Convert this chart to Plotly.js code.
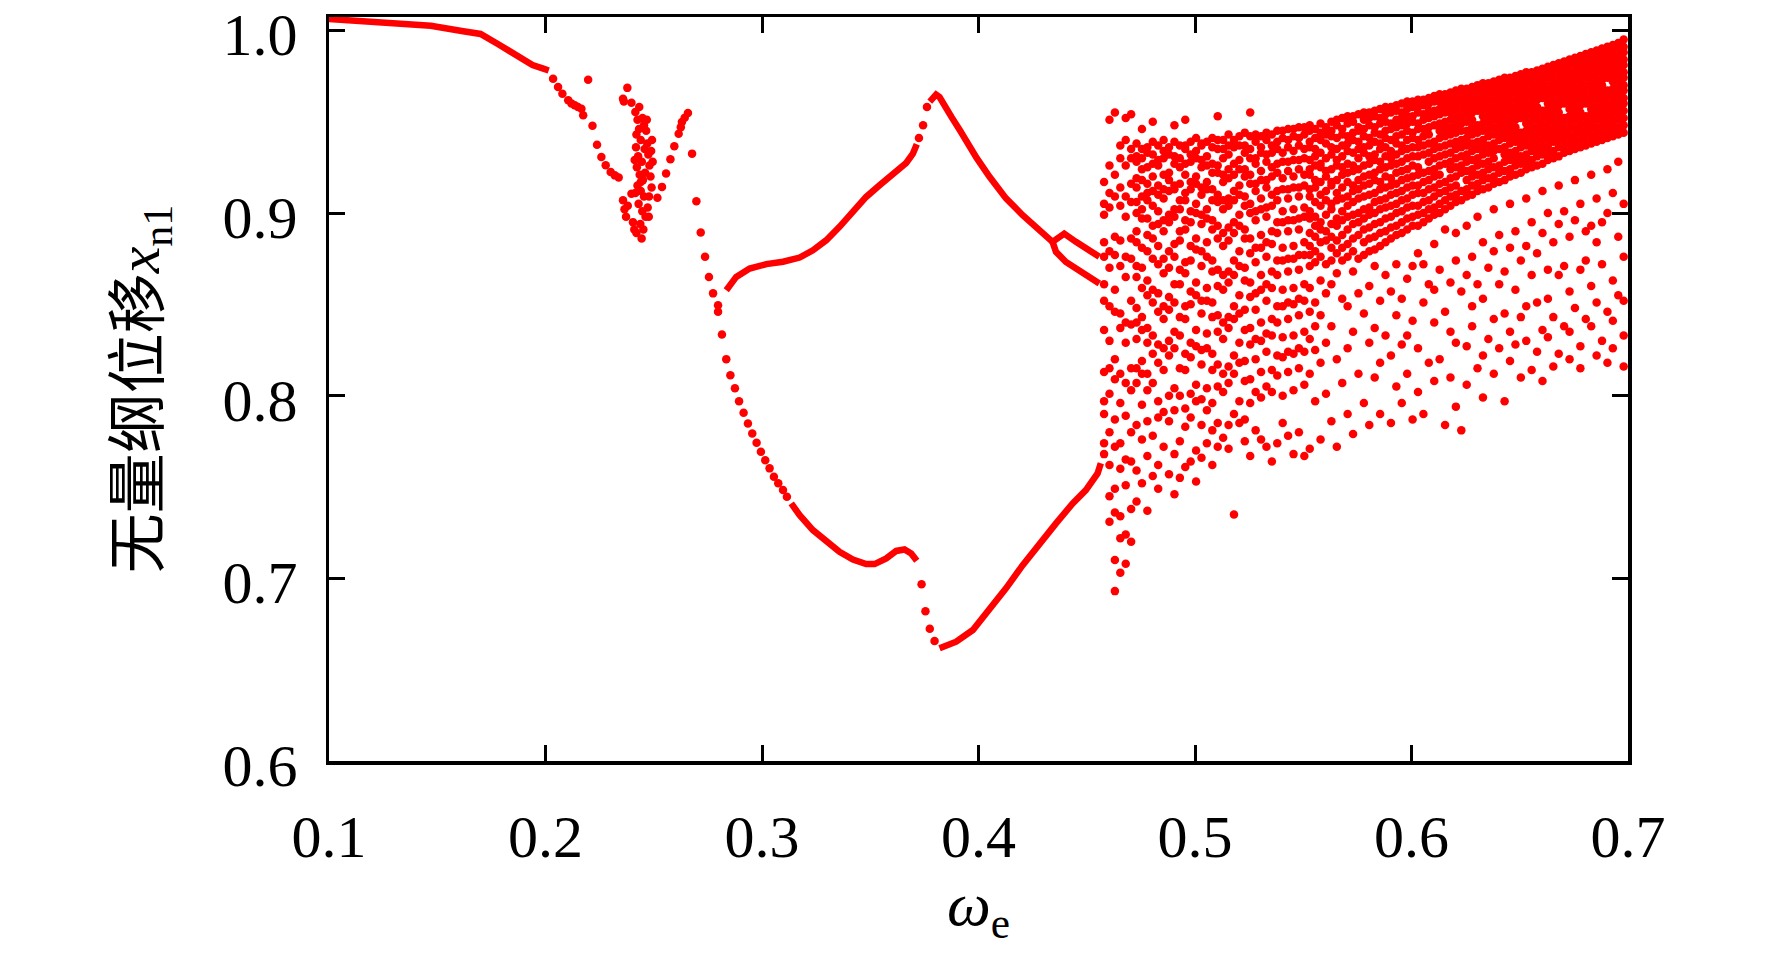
<!DOCTYPE html>
<html>
<head>
<meta charset="utf-8">
<script src="https://cdn.plot.ly/plotly-3.0.1.min.js"></script>
<style>
  html, body { margin: 0; padding: 0; background: #fff; }
  #chart { width: 1772px; height: 959px; }
</style>
</head>
<body>
<div id="chart"></div>
<script>
// 刻度
var xTicks = [0.1, 0.2, 0.3, 0.4, 0.5, 0.6, 0.7];
var yTicks = [0.6, 0.7, 0.8, 0.9, 1.0];

// 单周期主支 0.1~0.2
var topX = [0.1, 0.115, 0.131, 0.147, 0.162, 0.170, 0.178, 0.183, 0.188, 0.194, 0.199, 0.2015];
var topY = [1.0062, 1.0053, 1.004, 1.0025, 0.9995, 0.998, 0.9925, 0.989, 0.985, 0.981, 0.979, 0.978];

// 上支 (0.28 ~ 0.37)
var upperX = [0.2835, 0.2881, 0.2943, 0.302, 0.3097, 0.3174, 0.3235, 0.3297, 0.3358, 0.342, 0.3481, 0.3543, 0.3604, 0.3666, 0.3697, 0.3715];
var upperY = [0.8577, 0.865, 0.8696, 0.872, 0.8733, 0.8756, 0.8796, 0.8851, 0.8924, 0.9006, 0.9088, 0.9152, 0.9216, 0.9274, 0.9325, 0.9376];

// 峰值后下降支
var peakX = [0.3775, 0.379, 0.3804, 0.382, 0.3836, 0.3875, 0.3914, 0.3953, 0.3992, 0.4051, 0.4127, 0.4204, 0.4281, 0.4342];
var peakY = [0.961, 0.9638, 0.9648, 0.9635, 0.960, 0.9526, 0.9453, 0.9375, 0.930, 0.9198, 0.908, 0.8988, 0.891, 0.8842];

// 0.44 附近的小环
var loopAX = [0.4342, 0.4396, 0.445, 0.4512, 0.4558];
var loopAY = [0.8842, 0.8887, 0.8842, 0.8796, 0.876];
var loopBX = [0.4342, 0.4358, 0.4404, 0.4466, 0.4527, 0.4558];
var loopBY = [0.8842, 0.8787, 0.8732, 0.8687, 0.8641, 0.8614];

// 下支
var lowerX = [0.3135, 0.3174, 0.3235, 0.3297, 0.3358, 0.342, 0.3481, 0.352, 0.3574, 0.362, 0.3658, 0.3689, 0.3715];
var lowerY = [0.741, 0.7346, 0.7264, 0.72, 0.7145, 0.7103, 0.7078, 0.7078, 0.7109, 0.715, 0.7158, 0.7136, 0.7096];
var riseX = [0.382, 0.3897, 0.3974, 0.4051, 0.4127, 0.4204, 0.4281, 0.4358, 0.4435, 0.4496, 0.455, 0.4565];
var riseY = [0.6617, 0.6653, 0.6717, 0.6826, 0.6945, 0.7072, 0.7191, 0.7301, 0.741, 0.7483, 0.7574, 0.763];

// 离散点 (0.2 ~ 0.38)
var dotsX = [0.2035, 0.2058, 0.2078, 0.2105, 0.212, 0.2135, 0.215, 0.2166, 0.2174, 0.2197, 0.2217, 0.2238, 0.2258, 0.2278, 0.2301, 0.232, 0.2338,
  0.2378, 0.2358, 0.2362, 0.2397,
  0.2415, 0.2425, 0.2432, 0.242, 0.244, 0.2418, 0.2428, 0.2445, 0.2422, 0.2435, 0.245, 0.2425, 0.244, 0.2455, 0.243, 0.2447, 0.2462, 0.2438, 0.2452, 0.242,
  0.2465, 0.247, 0.2475, 0.248, 0.2485, 0.249, 0.2478, 0.2472, 0.2468, 0.2458, 0.246, 0.2492, 0.2495, 0.2488, 0.2455, 0.2448, 0.2433, 0.2412, 0.244, 0.2415, 0.2444,
  0.2358, 0.2365, 0.2372, 0.238, 0.2397, 0.2404, 0.241, 0.2477,
  0.2517, 0.2538, 0.2557, 0.2577, 0.2595, 0.2615, 0.2625, 0.263, 0.2643, 0.2658,
  0.2677, 0.2697, 0.2717, 0.2737, 0.2755, 0.2774, 0.2797, 0.2797, 0.2815, 0.2835, 0.2854, 0.2875, 0.2894, 0.2915, 0.2935, 0.2955, 0.2975, 0.2995, 0.3015, 0.3035, 0.3055, 0.3075, 0.3097, 0.3115,
  0.3737, 0.3755, 0.3775, 0.3797, 0.3725, 0.3744, 0.3762];
var dotsY = [0.9735, 0.969, 0.9653, 0.9617, 0.960, 0.959, 0.958, 0.9571, 0.9535, 0.973, 0.9478, 0.9374, 0.9307, 0.9261, 0.9225, 0.9206, 0.9194,
  0.9685, 0.9626, 0.961, 0.9603,
  0.9553, 0.951, 0.946, 0.943, 0.940, 0.936, 0.931, 0.928, 0.925, 0.921, 0.918, 0.915, 0.912, 0.909, 0.905, 0.901, 0.898, 0.894, 0.891, 0.889,
  0.945, 0.938, 0.932, 0.926, 0.920, 0.914, 0.909, 0.903, 0.951, 0.935, 0.922, 0.940, 0.928, 0.934, 0.948, 0.952, 0.958, 0.929, 0.917, 0.911, 0.886,
  0.907, 0.902, 0.898, 0.904, 0.9106, 0.895, 0.891, 0.898,
  0.9083, 0.9143, 0.9216, 0.9294, 0.9365, 0.9434, 0.947, 0.9498, 0.9522, 0.9548,
  0.9325, 0.9064, 0.8893, 0.876, 0.865, 0.856, 0.8495, 0.8459, 0.8335, 0.820, 0.8112, 0.804, 0.797, 0.7906, 0.7848, 0.7793, 0.7742, 0.7693, 0.7647, 0.7602, 0.7556, 0.752, 0.7483, 0.7446,
  0.6967, 0.682, 0.6724, 0.6657, 0.941, 0.948, 0.958];

// 混沌区: 每个 ω_e 列上的 x_n1 取值
var chaosX = [0.458, 0.4605, 0.463, 0.4655, 0.468, 0.4705, 0.473, 0.4755, 0.478, 0.4805,
  0.483, 0.4855, 0.488, 0.4905, 0.493, 0.4955, 0.498, 0.5005, 0.503, 0.5055,
  0.508, 0.5105, 0.513, 0.5155, 0.518, 0.5205, 0.523, 0.5255, 0.528, 0.5305,
  0.533, 0.5355, 0.538, 0.5405, 0.543, 0.5455, 0.548, 0.5505, 0.553, 0.5555,
  0.558, 0.5605, 0.563, 0.5655, 0.568, 0.5705, 0.573, 0.5755, 0.578, 0.5805,
  0.583, 0.5855, 0.588, 0.5905, 0.593, 0.5955, 0.598, 0.6005, 0.603, 0.6055,
  0.608, 0.6105, 0.613, 0.6155, 0.618, 0.6205, 0.623, 0.6255, 0.628, 0.6305,
  0.633, 0.6355, 0.638, 0.6405, 0.643, 0.6455, 0.648, 0.6505, 0.653, 0.6555,
  0.658, 0.6605, 0.663, 0.6655, 0.668, 0.6705, 0.673, 0.6755, 0.678, 0.6805,
  0.683, 0.6855, 0.688, 0.6905, 0.693, 0.6955, 0.698];
var chaosY = [
  [.917, .905, .899, .884, .876, .861, .852, .836, .813, .797, .79, .774, .768],
  [.951, .926, .911, .903, .879, .87, .849, .83, .815, .801, .78, .762, .745, .731],
  [.955, .921, .909, .887, .877, .858, .846, .82, .809, .787, .772, .749, .736, .71, .693],
  [.937, .93, .914, .904, .885, .871, .845, .837, .812, .796, .774, .76, .734, .722, .703],
  [.952, .94, .926, .909, .898, .876, .865, .84, .829, .807, .789, .765, .751, .724, .708],
  [.954, .935, .93, .916, .906, .886, .875, .852, .839, .815, .803, .78, .764, .738, .72],
  [.938, .931, .928, .919, .914, .906, .9, .89, .884, .871, .865, .848, .84, .831, .815, .807, .784, .759, .742],
  [.946, .935, .93, .924, .918, .909, .902, .897, .881, .87, .859, .843, .836, .819, .812, .795, .776, .752],
  [.936, .933, .925, .916, .911, .907, .897, .888, .879, .863, .855, .837, .829, .812, .803, .786, .767, .737],
  [.95, .939, .932, .927, .92, .912, .904, .893, .886, .875, .858, .851, .833, .823, .807, .778, .756],
  [.937, .929, .926, .915, .91, .901, .894, .882, .872, .856, .846, .828, .818, .797, .788, .762, .749],
  [.94, .934, .93, .921, .913, .908, .896, .89, .875, .867, .849, .842, .826, .814, .791, .772],
  [.936, .932, .922, .918, .912, .899, .895, .879, .87, .854, .847, .83, .822, .8, .786, .757],
  [.948, .939, .931, .927, .915, .913, .902, .898, .883, .876, .861, .851, .835, .826, .804, .792, .768, .746],
  [.937, .93, .925, .916, .907, .902, .89, .885, .869, .861, .843, .833, .815, .8, .775, .755],
  [.951, .937, .935, .927, .921, .911, .907, .896, .891, .873, .867, .849, .842, .823, .814, .793, .783, .761],
  [.939, .932, .928, .917, .913, .901, .895, .882, .874, .857, .85, .829, .821, .801, .788, .764],
  [.941, .934, .93, .92, .916, .905, .9, .886, .88, .862, .855, .836, .827, .806, .797, .77, .753],
  [.938, .937, .929, .925, .914, .91, .899, .894, .879, .871, .852, .845, .825, .817, .798, .784, .766],
  [.939, .931, .926, .917, .913, .902, .897, .884, .876, .859, .852, .834, .826, .804, .792, .774],
  [.941, .936, .927, .922, .913, .907, .896, .891, .874, .868, .851, .843, .823, .814, .796, .781, .762],
  [.953, .94, .935, .926, .922, .91, .906, .893, .886, .869, .86, .844, .835, .817, .805, .785, .772],
  [.94, .935, .93, .921, .917, .907, .902, .889, .882, .866, .858, .84, .831, .812, .802, .777],
  [.943, .937, .932, .924, .919, .908, .904, .892, .885, .868, .862, .843, .837, .816, .807, .784, .771],
  [.94, .936, .927, .921, .912, .907, .895, .889, .874, .866, .849, .842, .822, .812, .79, .735],
  [.942, .937, .929, .924, .915, .91, .899, .893, .879, .871, .855, .845, .829, .818, .797, .785],
  [.944, .937, .933, .924, .92, .909, .904, .891, .886, .87, .863, .847, .836, .819, .808, .787, .775],
  [.955, .942, .935, .93, .921, .916, .905, .9, .886, .878, .862, .854, .837, .828, .809, .796, .767],
  [.943, .939, .93, .927, .916, .912, .901, .896, .881, .873, .856, .847, .831, .82, .802, .781],
  [.942, .936, .933, .923, .918, .908, .902, .888, .881, .866, .858, .84, .83, .813, .799, .776],
  [.944, .94, .932, .928, .918, .914, .903, .898, .884, .876, .861, .852, .834, .824, .805, .772],
  [.943, .937, .933, .925, .92, .91, .904, .89, .883, .868, .859, .842, .833, .814, .802, .764],
  [.945, .939, .935, .927, .922, .912, .907, .895, .889, .874, .866, .849, .84, .822, .811, .774],
  [.945, .941, .933, .928, .919, .913, .901, .895, .881, .874, .858, .849, .832, .821, .8, .785],
  [.946, .94, .936, .928, .923, .913, .908, .896, .89, .875, .868, .851, .842, .824, .813, .778],
  [.946, .942, .934, .929, .92, .914, .902, .896, .882, .875, .859, .85, .833, .823, .803, .768],
  [.947, .941, .937, .929, .924, .914, .909, .897, .891, .877, .869, .853, .844, .826, .815, .78],
  [.947, .943, .935, .93, .921, .915, .903, .898, .884, .877, .861, .852, .835, .824, .806, .767],
  [.948, .945, .939, .936, .929, .924, .921, .913, .909, .901, .897, .889, .882, .877, .871, .859, .846, .831, .812, .771],
  [.946, .941, .935, .931, .926, .918, .914, .906, .898, .893, .887, .879, .873, .851, .838, .825, .797],
  [.949, .944, .94, .933, .927, .925, .917, .91, .904, .895, .891, .884, .876, .863, .844, .818, .776],
  [.947, .943, .938, .93, .923, .92, .912, .907, .899, .89, .885, .872, .856, .829, .801],
  [.95, .945, .942, .936, .932, .924, .917, .915, .905, .902, .894, .887, .881, .874, .861, .838, .786],
  [.951, .948, .941, .935, .929, .926, .918, .911, .907, .897, .893, .885, .878, .867, .82, .772],
  [.952, .946, .943, .937, .931, .925, .921, .914, .908, .901, .896, .888, .881, .874, .853, .807],
  [.953, .949, .942, .938, .934, .927, .922, .917, .909, .904, .898, .891, .883, .876, .849, .826, .79],
  [.953, .95, .944, .94, .933, .926, .923, .915, .912, .906, .899, .894, .886, .879, .868, .835, .779],
  [.954, .947, .945, .939, .935, .93, .924, .918, .913, .908, .9, .895, .888, .875, .856, .812],
  [.955, .951, .946, .942, .936, .933, .926, .92, .915, .909, .902, .897, .891, .884, .877, .845, .796],
  [.955, .952, .948, .941, .937, .931, .927, .921, .916, .91, .903, .899, .892, .886, .879, .86, .829, .784],
  [.956, .953, .947, .944, .939, .932, .929, .922, .918, .911, .906, .9, .894, .887, .88, .871, .837, .81],
  [.957, .952, .949, .943, .938, .935, .928, .924, .917, .913, .907, .902, .895, .889, .882, .852, .818, .79],
  [.958, .954, .95, .945, .941, .936, .931, .925, .92, .914, .908, .903, .897, .89, .884, .866, .833],
  [.958, .955, .949, .946, .94, .934, .93, .926, .919, .915, .91, .904, .898, .892, .886, .857, .822, .785],
  [.959, .956, .951, .947, .942, .938, .932, .927, .922, .916, .911, .905, .9, .893, .888, .872, .844, .805],
  [.96, .955, .952, .948, .943, .937, .934, .928, .923, .918, .912, .907, .901, .895, .889, .853, .828, .796],
  [.961, .957, .953, .949, .945, .94, .935, .93, .924, .919, .914, .908, .903, .897, .891, .864, .833, .812],
  [.961, .958, .953, .95, .944, .941, .936, .931, .926, .92, .915, .91, .904, .898, .893, .871, .841, .787],
  [.962, .958, .955, .949, .946, .94, .936, .931, .925, .921, .915, .911, .904, .899, .893, .878, .826, .802],
  [.962, .959, .954, .951, .946, .942, .937, .932, .922, .917, .911, .906, .9, .895, .872, .851, .79],
  [.963, .96, .956, .952, .947, .943, .938, .933, .928, .923, .918, .913, .907, .902, .897, .861, .818],
  [.964, .961, .956, .953, .948, .939, .935, .93, .924, .92, .914, .909, .903, .899, .883, .858, .84, .808],
  [.965, .961, .957, .954, .949, .945, .941, .936, .931, .926, .921, .916, .911, .905, .9, .869, .82],
  [.965, .962, .958, .955, .95, .946, .942, .937, .932, .927, .917, .912, .907, .902, .891, .846, .784],
  [.966, .963, .959, .955, .951, .947, .943, .938, .933, .928, .924, .919, .914, .909, .904, .862, .835, .81],
  [.967, .963, .96, .956, .952, .948, .944, .939, .935, .93, .925, .92, .915, .91, .906, .889, .874, .829, .794],
  [.968, .964, .961, .957, .953, .949, .945, .94, .936, .931, .926, .922, .912, .907, .857, .781],
  [.968, .965, .961, .958, .954, .95, .945, .941, .937, .932, .928, .923, .918, .913, .909, .893, .866, .827, .806],
  [.969, .966, .962, .959, .955, .951, .947, .943, .938, .934, .929, .924, .92, .915, .91, .876, .849, .838],
  [.97, .967, .963, .96, .956, .948, .944, .939, .935, .93, .926, .921, .916, .912, .898, .861, .815],
  [.971, .967, .964, .96, .957, .953, .949, .945, .94, .936, .932, .927, .922, .918, .913, .884, .853, .822, .799],
  [.971, .968, .965, .961, .958, .954, .95, .946, .942, .937, .933, .928, .924, .919, .914, .87, .831],
  [.972, .969, .966, .962, .958, .955, .951, .947, .943, .938, .934, .93, .925, .92, .916, .902, .879, .842, .812],
  [.973, .97, .966, .963, .959, .956, .952, .948, .944, .94, .935, .926, .922, .917, .888, .861, .826],
  [.974, .971, .967, .964, .96, .957, .953, .949, .945, .941, .936, .932, .928, .923, .918, .868, .845, .797],
  [.974, .971, .968, .965, .961, .958, .954, .95, .946, .942, .938, .933, .929, .924, .92, .905, .881, .835, .819],
  [.975, .972, .969, .966, .962, .958, .955, .951, .947, .943, .939, .934, .93, .926, .921, .89, .858, .828],
  [.976, .973, .97, .966, .963, .959, .956, .952, .944, .94, .936, .931, .927, .922, .874, .843, .81],
  [.977, .974, .971, .967, .964, .96, .957, .953, .949, .945, .941, .937, .932, .928, .924, .908, .882, .849, .83],
  [.977, .974, .971, .968, .965, .961, .958, .954, .95, .946, .942, .938, .934, .929, .925, .895, .866, .814],
  [.978, .975, .972, .969, .965, .962, .958, .955, .951, .947, .943, .939, .935, .931, .926, .878, .851, .824],
  [.979, .976, .973, .97, .966, .963, .956, .952, .948, .944, .94, .936, .932, .927, .912, .889, .836, .808],
  [.98, .977, .974, .97, .967, .964, .96, .957, .953, .949, .945, .941, .937, .933, .929, .9, .869, .853, .832],
  [.981, .978, .975, .971, .968, .965, .961, .958, .954, .95, .946, .943, .939, .934, .93, .884, .843, .816],
  [.982, .979, .975, .972, .969, .966, .962, .959, .955, .951, .948, .944, .94, .936, .931, .915, .894, .866, .823],
  [.983, .98, .976, .973, .97, .966, .963, .96, .952, .949, .945, .941, .937, .933, .901, .871, .838],
  [.984, .981, .977, .974, .971, .967, .964, .961, .957, .953, .95, .946, .942, .938, .934, .887, .857, .835, .82],
  [.985, .982, .978, .975, .972, .968, .965, .962, .958, .954, .951, .947, .943, .939, .935, .918, .896, .848],
  [.986, .983, .979, .976, .973, .969, .966, .963, .959, .955, .952, .948, .944, .94, .936, .905, .869, .827, .815],
  [.987, .984, .98, .977, .974, .97, .967, .963, .96, .953, .949, .945, .941, .937, .89, .874, .842],
  [.988, .985, .981, .978, .975, .971, .968, .964, .961, .957, .954, .95, .946, .942, .938, .921, .893, .86, .838],
  [.989, .986, .982, .979, .976, .972, .969, .965, .962, .958, .955, .951, .947, .943, .939, .908, .884, .851, .822],
  [.99, .987, .983, .98, .977, .973, .97, .966, .963, .959, .956, .952, .948, .944, .94, .895, .872, .83],
  [.991, .988, .984, .981, .978, .974, .967, .964, .96, .957, .953, .949, .945, .941, .924, .9, .846, .818],
  [.992, .989, .985, .982, .979, .975, .972, .968, .965, .961, .958, .954, .95, .946, .942, .911, .863, .841, .826],
  [.993, .99, .986, .983, .98, .976, .973, .969, .966, .962, .959, .955, .951, .947, .943, .928, .887, .855],
  [.995, .991, .988, .984, .981, .977, .974, .97, .967, .963, .96, .956, .952, .948, .944, .905, .876, .852, .833, .816]
];

var chaosPx = [], chaosPy = [];
chaosX.forEach(function (x, i) {
  chaosY[i].forEach(function (y) {
    chaosPx.push(x);
    chaosPy.push(y);
  });
});

var red = '#ff0000';
var dot = { color: red, size: 8.5 };
var ln = { color: red, width: 6.5 };

var data = [
  { type: 'scatter', mode: 'lines', x: topX, y: topY, line: ln },
  { type: 'scatter', mode: 'lines', x: upperX, y: upperY, line: ln },
  { type: 'scatter', mode: 'lines', x: peakX, y: peakY, line: ln },
  { type: 'scatter', mode: 'lines', x: loopAX, y: loopAY, line: ln },
  { type: 'scatter', mode: 'lines', x: loopBX, y: loopBY, line: ln },
  { type: 'scatter', mode: 'lines', x: lowerX, y: lowerY, line: ln },
  { type: 'scatter', mode: 'lines', x: riseX, y: riseY, line: ln },
  { type: 'scatter', mode: 'markers', x: dotsX, y: dotsY, marker: dot },
  { type: 'scatter', mode: 'markers', x: chaosPx, y: chaosPy, marker: dot }
];

var axisFont = { family: 'Liberation Serif, Times New Roman, serif', size: 60, color: '#000' };

var axisCommon = {
  tickformat: '.1f',
  ticks: 'inside',
  ticklen: 16,
  tickwidth: 3,
  tickcolor: '#000',
  showline: true,
  linewidth: 3.5,
  linecolor: '#000',
  mirror: 'ticks',
  showgrid: false,
  zeroline: false,
  tickfont: axisFont,
  ticklabeloverflow: 'allow',
  automargin: false
};

var layout = {
  width: 1772,
  height: 959,
  showlegend: false,
  paper_bgcolor: '#fff',
  plot_bgcolor: '#fff',
  margin: { l: 329, r: 144, t: 17, b: 198 },
  xaxis: Object.assign({}, axisCommon, {
    range: [0.1, 0.7],
    tickmode: 'array',
    tickvals: xTicks,
    ticklabelstandoff: 20,
    title: { text: '<i>ω</i><sub>e</sub>', font: { family: axisFont.family, size: 62, color: '#000' }, standoff: 14 }
  }),
  yaxis: Object.assign({}, axisCommon, {
    range: [0.6, 1.0073],
    tickmode: 'array',
    tickvals: yTicks,
    ticklabelstandoff: 16,
    ticklabelshift: 4,
    title: {
      text: '无量纲位移<i>x</i><sub>n1</sub>',
      font: { family: 'Liberation Serif, Noto Sans CJK SC, serif', size: 60, color: '#000' },
      standoff: 44
    }
  })
};

Plotly.newPlot('chart', data, layout, { displayModeBar: false, staticPlot: true });
</script>
</body>
</html>
